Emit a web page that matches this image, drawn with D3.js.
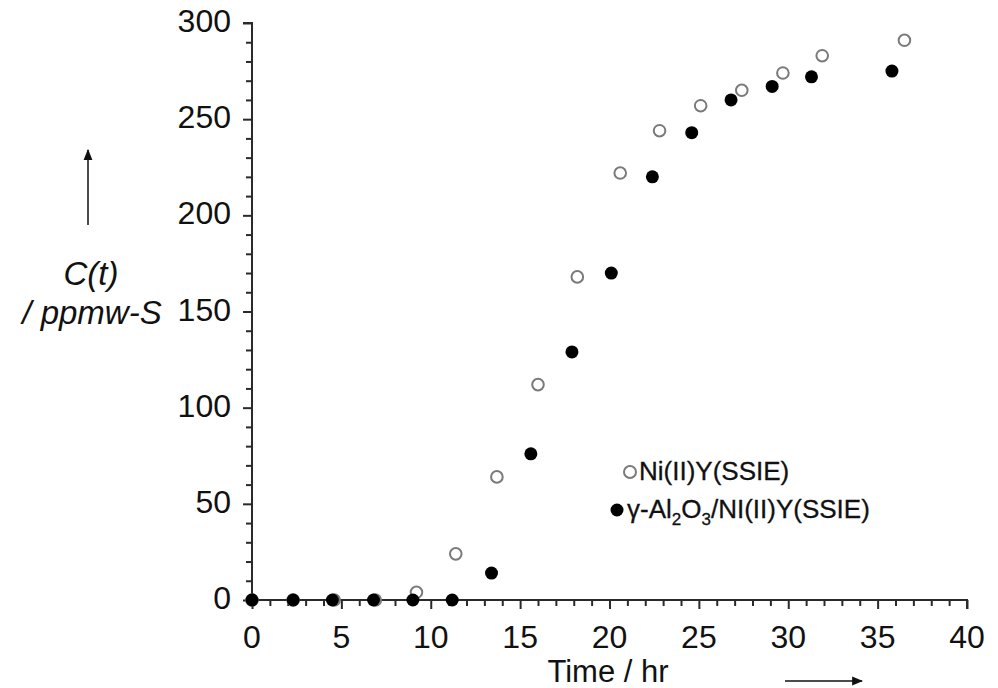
<!DOCTYPE html>
<html>
<head>
<meta charset="utf-8">
<script src="https://cdn.jsdelivr.net/npm/d3@7"></script>
<style>
  html, body { margin: 0; padding: 0; background: #fff; }
  svg { display: block; font-family: "Liberation Sans", Arial, Helvetica, sans-serif; }
</style>
</head>
<body>
<svg id="chart" width="998" height="688"></svg>
<script>
// Breakthrough data: sulfur concentration C(t) vs time on stream
const timeNiY = [0, 2.3, 4.6, 6.9, 9.2, 11.4, 13.7, 16.0, 18.2, 20.6, 22.8, 25.1, 27.4, 29.7, 31.9, 36.5];
const concNiY = [0, 0, 0, 0, 4, 24, 64, 112, 168, 222, 244, 257, 265, 274, 283, 291];

const timeAlNiY = [0, 2.3, 4.5, 6.8, 9.0, 11.2, 13.4, 15.6, 17.9, 20.1, 22.4, 24.6, 26.8, 29.1, 31.3, 35.8];
const concAlNiY = [0, 0, 0, 0, 0, 0, 14, 76, 129, 170, 220, 243, 260, 267, 272, 275];

const xMajorTicks = [0, 5, 10, 15, 20, 25, 30, 35, 40];
const yMajorTicks = [0, 50, 100, 150, 200, 250, 300];

const svg = d3.select("#chart");

const x = d3.scaleLinear().domain([0, 40]).range([252, 967]);
const y = d3.scaleLinear().domain([0, 300]).range([600, 23]);

const axisColor = "#2a2a2a";
const textColor = "#111";

// X axis: minor ticks each hour, longer ticks every 5 h
const xAxisG = svg.append("g").attr("transform", `translate(0,${y(0)})`);
xAxisG.call(d3.axisBottom(x).tickValues(d3.range(0, 41, 1)).tickSize(6).tickFormat(""));
xAxisG.selectAll(".tick line").attr("stroke-width", 2)
  .attr("y2", d => (d % 5 === 0 ? 9 : 6));
xAxisG.select(".domain").attr("stroke-width", 2).attr("d", `M${x(0)},0H${x(40)}V9`);
xAxisG.selectAll("line, path").attr("stroke", axisColor);

xAxisG.selectAll(".xlab").data(xMajorTicks).enter().append("text")
  .attr("class", "xlab")
  .attr("x", d => x(d)).attr("y", 48)
  .attr("text-anchor", "middle")
  .attr("font-size", 32).attr("fill", textColor)
  .text(d => d);

// Y axis: minor ticks every 10, longer ticks every 50
const yAxisG = svg.append("g").attr("transform", `translate(${x(0)},0)`);
yAxisG.call(d3.axisLeft(y).tickValues(d3.range(0, 301, 10)).tickSize(6).tickFormat(""));
yAxisG.selectAll(".tick line").attr("stroke-width", 2)
  .attr("x2", d => (d % 50 === 0 ? -9 : -6));
yAxisG.select(".domain").attr("stroke-width", 2).attr("d", `M-9,${y(300)}H0V${y(0)}`);
yAxisG.selectAll("line, path").attr("stroke", axisColor);

yAxisG.selectAll(".ylab").data(yMajorTicks).enter().append("text")
  .attr("class", "ylab")
  .attr("x", -21).attr("y", d => y(d) + 9)
  .attr("text-anchor", "end")
  .attr("font-size", 32).attr("fill", textColor)
  .text(d => d);

// Axis titles with direction arrows
const defs = svg.append("defs");
defs.append("marker").attr("id", "arrowHead")
  .attr("viewBox", "0 0 10 10").attr("refX", 9).attr("refY", 5)
  .attr("markerWidth", 11).attr("markerHeight", 11)
  .attr("markerUnits", "userSpaceOnUse")
  .attr("orient", "auto")
  .append("path").attr("d", "M0,1 L10,5 L0,9 Z").attr("fill", textColor);

svg.append("text")
  .attr("x", 608).attr("y", 682)
  .attr("text-anchor", "middle").attr("font-size", 31).attr("fill", textColor)
  .text("Time / hr");
svg.append("line")
  .attr("x1", 785).attr("y1", 681).attr("x2", 862).attr("y2", 681)
  .attr("stroke", textColor).attr("stroke-width", 1.5)
  .attr("marker-end", "url(#arrowHead)");

svg.append("text")
  .attr("x", 91).attr("y", 285)
  .attr("text-anchor", "middle").attr("font-size", 33).attr("font-style", "italic")
  .attr("fill", textColor)
  .text("C(t)");
svg.append("text")
  .attr("x", 92).attr("y", 324)
  .attr("text-anchor", "middle").attr("font-size", 33).attr("font-style", "italic")
  .attr("fill", textColor)
  .text("/ ppmw-S");
svg.append("line")
  .attr("x1", 88).attr("y1", 225).attr("x2", 88).attr("y2", 150)
  .attr("stroke", textColor).attr("stroke-width", 1.5)
  .attr("marker-end", "url(#arrowHead)");

// Data points: open circles first, filled circles drawn on top
const openPts = timeNiY.map((t, i) => ({ t, c: concNiY[i] }));
const filledPts = timeAlNiY.map((t, i) => ({ t, c: concAlNiY[i] }));

svg.append("g").selectAll("circle").data(openPts).enter().append("circle")
  .attr("cx", d => x(d.t)).attr("cy", d => y(d.c)).attr("r", 5.8)
  .attr("fill", "#fff").attr("stroke", "#7a7a7a").attr("stroke-width", 2);

svg.append("g").selectAll("circle").data(filledPts).enter().append("circle")
  .attr("cx", d => x(d.t)).attr("cy", d => y(d.c)).attr("r", 6.5)
  .attr("fill", "#000");

// Legend
const leg = svg.append("g");
leg.append("circle").attr("cx", 630).attr("cy", 472).attr("r", 6)
  .attr("fill", "#fff").attr("stroke", "#7a7a7a").attr("stroke-width", 2);
leg.append("text").attr("x", 639).attr("y", 480)
  .attr("font-size", 26).attr("fill", textColor)
  .attr("stroke", textColor).attr("stroke-width", 0.3)
  .text("Ni(II)Y(SSIE)");

leg.append("circle").attr("cx", 617).attr("cy", 510).attr("r", 6.5).attr("fill", "#000");
const t2 = leg.append("text").attr("x", 627).attr("y", 518)
  .attr("font-size", 26).attr("fill", textColor)
  .attr("stroke", textColor).attr("stroke-width", 0.3);
t2.append("tspan").text("γ-Al");
t2.append("tspan").attr("font-size", 17).attr("dy", 7).text("2");
t2.append("tspan").attr("dy", -7).text("O");
t2.append("tspan").attr("font-size", 17).attr("dy", 7).text("3");
t2.append("tspan").attr("dy", -7).text("/NI(II)Y(SSIE)");
</script>
</body>
</html>
